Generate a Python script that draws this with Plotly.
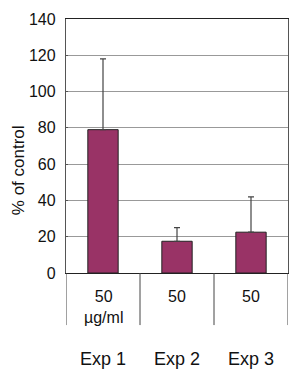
import plotly.graph_objects as go

categories = ["Exp 1", "Exp 2", "Exp 3"]
values = [79, 17.5, 22.5]
err_plus = [39, 7.5, 19.5]
dose_labels = ["50<br>µg/ml", "50", "50"]
y_ticks = [0, 20, 40, 60, 80, 100, 120, 140]

fig = go.Figure()
fig.add_trace(go.Bar(
    x=categories, y=values, width=0.41,
    marker=dict(color="#993366", line=dict(color="#222222", width=1)),
    error_y=dict(type="data", array=err_plus, arrayminus=[0]*3, symmetric=False,
                 color="#444444", thickness=1.2, width=3),
))

font = "Arial, Liberation Sans, sans-serif"
annotations = []
for c, d in zip(categories, dose_labels):
    annotations.append(dict(x=c, y=-0.052, xref="x", yref="paper", text=d, showarrow=False,
                            yanchor="top", font=dict(size=16, color="#111"), align="center"))
    annotations.append(dict(x=c, y=-0.29, xref="x", yref="paper", text=c, showarrow=False,
                            yanchor="top", font=dict(size=18, color="#111")))
annotations.append(dict(x=-0.216, y=0.405, xref="paper", yref="paper", text="% of control",
                        textangle=-90, showarrow=False, xanchor="center", yanchor="middle",
                        font=dict(size=17, color="#111")))

shapes = []
for xv in [-0.5, 0.5, 1.5, 2.5]:
    shapes.append(dict(type="line", xref="x", yref="paper", x0=xv, x1=xv, y0=0, y1=-0.205,
                       line=dict(color="#444444", width=1)))

fig.update_layout(
    width=300, height=378,
    margin=dict(l=66, r=12, t=19, b=105),
    paper_bgcolor="white", plot_bgcolor="white",
    showlegend=False,
    font=dict(family=font, size=16, color="#111"),
    xaxis=dict(range=[-0.5, 2.5], showticklabels=False, showgrid=False,
               showline=True, linecolor="#222", linewidth=1, mirror=True, ticks=""),
    yaxis=dict(range=[0, 140], tickvals=y_ticks, showgrid=True, gridcolor="#999999", gridwidth=1,
               showline=True, linecolor="#555", linewidth=1.3, mirror=True,
               ticks="inside", ticklen=2, tickcolor="#555", ticklabelstandoff=6,
               tickfont=dict(size=16), zeroline=False),
    annotations=annotations, shapes=shapes,
)
fig.write_html("out.html")
